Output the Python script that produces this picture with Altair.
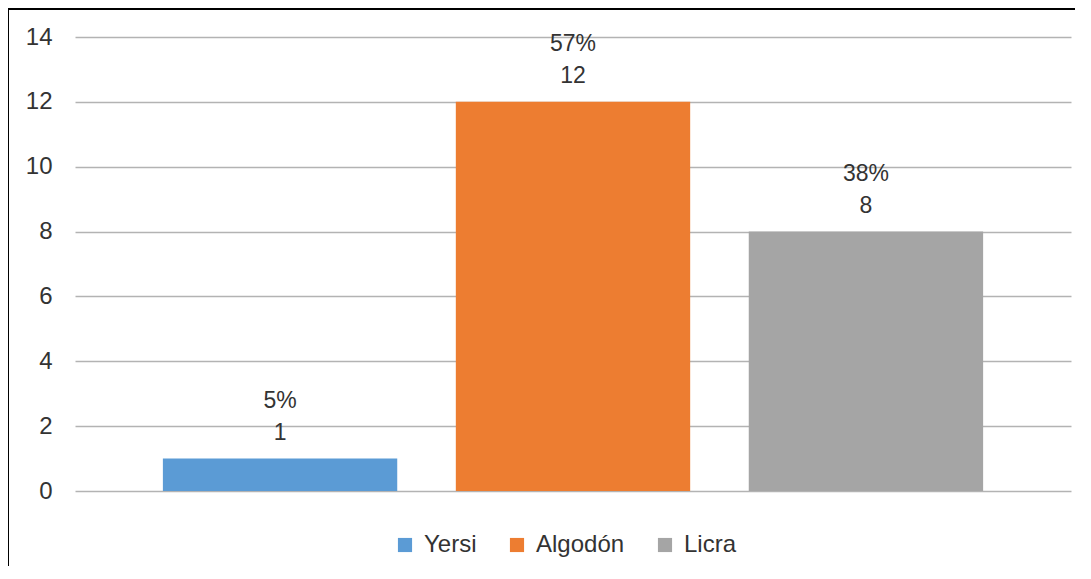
import altair as alt
import pandas as pd

categories = ["Yersi", "Algodón", "Licra"]
values = [1, 12, 8]
percents = ["5%", "57%", "38%"]
colors = ["#5B9BD5", "#ED7D31", "#A5A5A5"]

df = pd.DataFrame({"cat": categories, "val": values, "pct": percents})

FONT = "Liberation Sans"
TXT = "#333333"

x = alt.X("cat:N", sort=categories, axis=None,
          scale=alt.Scale(paddingInner=0.2, paddingOuter=0.3))
y = alt.Y("val:Q", scale=alt.Scale(domain=[0, 14], nice=False),
          axis=alt.Axis(values=[0, 2, 4, 6, 8, 10, 12, 14], title=None, domain=False,
                        ticks=False, labelPadding=23, labelFont=FONT, labelFontSize=24,
                        labelColor=TXT, gridColor="#b3b3b3", gridWidth=1.3))

base = alt.Chart(df)

bars = base.mark_bar().encode(
    x=x, y=y,
    color=alt.Color("cat:N", sort=categories,
                    scale=alt.Scale(domain=categories, range=colors),
                    legend=alt.Legend(title=None, orient="none", direction="horizontal",
                                      legendX=318, legendY=496, symbolType="square",
                                      symbolSize=200, symbolStrokeWidth=0,
                                      labelFont=FONT, labelFontSize=24, labelColor=TXT,
                                      labelOffset=7, columnPadding=28)),
)

val_text = base.mark_text(font=FONT, fontSize=23, color=TXT, baseline="alphabetic",
                          dy=-19).encode(x=x, y=y, text="val:Q")
pct_text = base.mark_text(font=FONT, fontSize=23, color=TXT, baseline="alphabetic",
                          dy=-51).encode(x=x, y=y, text="pct:N")

frame = alt.Chart(pd.DataFrame({"a": [0]})).mark_rect(
    fillOpacity=0, stroke="#000000", strokeWidth=2
).encode(x=alt.value(-67), x2=alt.value(1200), y=alt.value(-28), y2=alt.value(700))

chart = alt.layer(bars, val_text, pct_text, frame).properties(
    width=996, height=454,
    padding={"left": 67, "top": 29, "right": 4, "bottom": 75},
    autosize=alt.AutoSizeParams(type="none"),
).configure_view(stroke=None)

chart.save("out.html", embed_options={"renderer": "svg", "actions": False})
